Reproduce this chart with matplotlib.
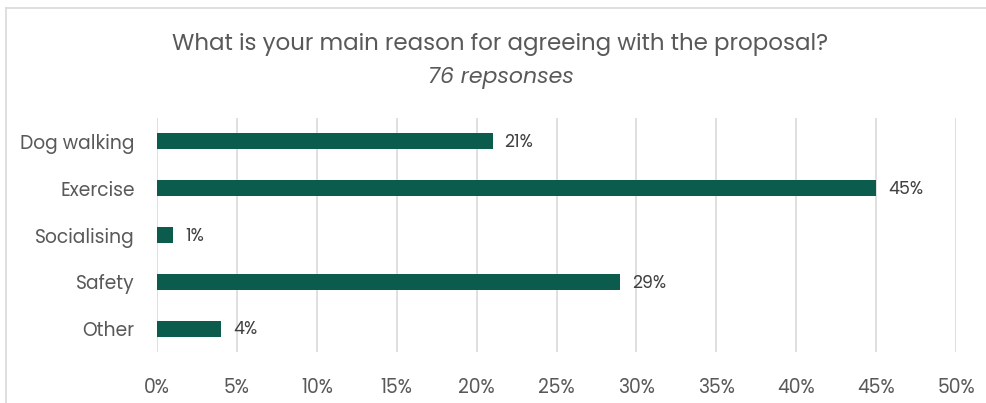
import matplotlib.pyplot as plt
from matplotlib.lines import Line2D
from matplotlib.ticker import FuncFormatter

# datos
categorias = ['Dog walking', 'Exercise', 'Socialising', 'Safety', 'Other']
porcentajes = [21, 45, 1, 29, 4]
xticks = [0, 5, 10, 15, 20, 25, 30, 35, 40, 45, 50]

VERDE = '#0b5c4c'
GRIS_TEXTO = '#595959'
GRIS_GRID = '#d9d9d9'

plt.rcParams['font.family'] = ['Poppins', 'Open Sans', 'DejaVu Sans']

W, H = 986, 403
fig = plt.figure(figsize=(W / 100, H / 100), dpi=100)
ax = fig.add_axes([157 / W, 1 - 352 / H, (956 - 157) / W, (352 - 118) / H])

y = list(range(len(categorias)))
ax.barh(y, porcentajes, height=0.34, color=VERDE, zorder=3)

for yi, v in zip(y, porcentajes):
    ax.text(v + 0.75, yi + 0.04, f'{v}%', va='center', ha='left', fontsize=12.5,
            color='#404040', zorder=4)

ax.set_xlim(0, 50)
ax.set_ylim(len(categorias) - 0.5, -0.5)
ax.set_xticks(xticks)
ax.xaxis.set_major_formatter(FuncFormatter(lambda v, p: f'{v:.0f}%'))
ax.set_yticks(y)
ax.set_yticklabels(categorias)
ax.tick_params(axis='both', length=0, labelsize=13.5, labelcolor=GRIS_TEXTO)
ax.tick_params(axis='x', pad=19)
ax.tick_params(axis='y', pad=16)
ax.grid(axis='x', color=GRIS_GRID, linewidth=1.2, zorder=0)
for s in ax.spines.values():
    s.set_visible(False)

fig.text(500 / W, 1 - 44 / H, 'What is your main reason for agreeing with the proposal?',
         ha='center', va='center', fontsize=16.5, color=GRIS_TEXTO)
fig.text(501 / W, 1 - 78 / H, '76 repsonses', ha='center', va='center',
         fontsize=15.9, style='italic', color=GRIS_TEXTO)

# borde del gráfico
fig.add_artist(Line2D([6 / W, 6 / W], [0, 1 - 8 / H], color='#d9d9d9', linewidth=1.2))
fig.add_artist(Line2D([6 / W, 1], [1 - 8 / H, 1 - 8 / H], color='#d9d9d9', linewidth=1.2))

fig.savefig('out.png', dpi=100)
